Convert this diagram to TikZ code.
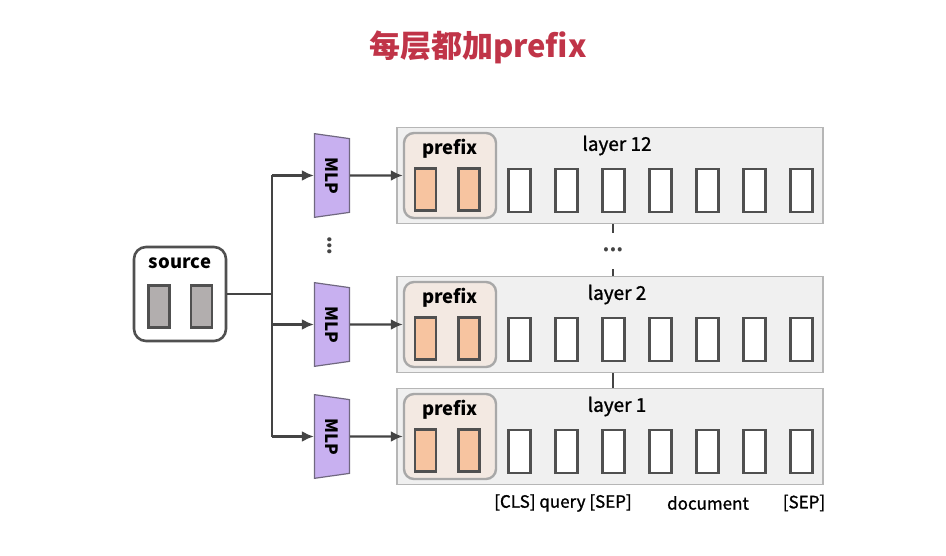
\documentclass[tikz,border=0pt]{standalone}
\usepackage{fontspec}
\setmainfont{Noto Sans CJK KR}
\newfontfamily\cjk{Noto Sans CJK SC}
\newfontfamily\medfont[FakeBold=1.2]{Noto Sans CJK KR}
\usetikzlibrary{arrows.meta}
\usetikzlibrary{shapes.geometric}
\usetikzlibrary{calc}

\definecolor{titlered}{RGB}{192,52,72}
\definecolor{mlppurple}{RGB}{200,176,240}
\definecolor{mlpedge}{RGB}{112,104,128}
\definecolor{layergray}{RGB}{240,240,240}
\definecolor{layeredge}{RGB}{182,182,182}
\definecolor{prefixbg}{RGB}{243,233,226}
\definecolor{prefixedge}{RGB}{168,168,168}
\definecolor{prefixorange}{RGB}{247,196,160}
\definecolor{srcgray}{RGB}{178,174,174}
\definecolor{edgegray}{RGB}{80,80,80}
\definecolor{linegray}{RGB}{68,68,68}

\tikzset{
    layerbox/.style={draw=layeredge, line width=1.8pt, fill=layergray, minimum width=426pt, minimum height=96pt, inner sep=0pt},
    prefixbox/.style={draw=prefixedge, line width=2.4pt, fill=prefixbg, rounded corners=10pt, minimum width=92pt, minimum height=85pt, inner sep=0pt},
    srcbox/.style={draw=edgegray, line width=2.6pt, fill=white, rounded corners=12pt, minimum width=92pt, minimum height=94pt, inner sep=0pt},
    token/.style={draw=edgegray, line width=2.6pt, fill=white, minimum width=22pt, minimum height=43pt, inner sep=0pt},
    ptoken/.style={token, fill=prefixorange, minimum width=21pt, minimum height=42pt},
    stoken/.style={token, fill=srcgray, minimum width=21pt, minimum height=42pt},
    mlp/.style={trapezium, trapezium angle=79, trapezium stretches=true, draw=mlpedge, line width=1.2pt, fill=mlppurple, minimum width=84pt, minimum height=35pt, inner sep=0pt, rotate=-90, font=\bfseries\fontsize{17}{17}\selectfont},
    link/.style={draw=linegray, line width=2.4pt},
    arr/.style={link, -{Latex[length=12pt,width=11pt]}},
    boldlbl/.style={font=\bfseries\fontsize{18.5}{18.5}\selectfont, inner sep=0pt},
    lbl/.style={font=\medfont\fontsize{19}{19}\selectfont, inner sep=0pt},
    tag/.style={font=\medfont\fontsize{17}{17}\selectfont, inner sep=0pt},
    dots/.style={inner sep=0pt, text=linegray, font=\fontsize{16}{16}\selectfont},
}

\begin{document}
\begin{tikzpicture}[x=1pt,y=-1pt]
    \useasboundingbox (0,0) rectangle (946,556);

    \node[font=\cjk\bfseries\fontsize{31}{31}\selectfont, text=titlered] (title) at (478,47) {每层都加prefix};

    \node[srcbox] (src) at (180,294) {};
    \node[boldlbl] (srclbl) at (180,263) {source};
    \node[stoken] (s1) at (159,306.5) {};
    \node[stoken] (s2) at (201.5,306.5) {};

    \foreach \name/\lab/\yc in {top/12/175.5, mid/2/324.5, bot/1/436.5} {
        \node[layerbox] (l\name) at (610,\yc) {};
        \node[lbl] (ll\name) at (617,\yc-30) {layer \lab};
        \node[prefixbox] (p\name) at (450,\yc) {};
        \node[boldlbl] (pl\name) at (450,\yc-27) {prefix};
        \node[ptoken] (pa\name) at (425.5,\yc+14) {};
        \node[ptoken] (pb\name) at (469,\yc+14) {};
        \foreach \i in {0,...,6}
            \node[token] (t\name\i) at ({519.5+47*\i},{\yc+15}) {};
        \node[mlp] (m\name) at (332,\yc) {MLP};
        \draw[arr] (m\name) -- (p\name);
    }

    \coordinate (split) at (272,294);
    \draw[link] (src) -- (split);
    \draw[link] (split |- mtop) -- (split |- mbot);
    \foreach \name in {top,mid,bot}
        \draw[arr] (split |- m\name) -- (m\name);

    \node[dots, rotate=90] (mdots) at (331,246) {•\hspace{0.5pt}•\hspace{0.5pt}•};

    \node[dots, minimum height=36pt] (ldots) at (613,251) {•\hspace{1.5pt}•\hspace{1.5pt}•};
    \draw[link, line width=2pt] (ltop.south -| ldots) -- (ldots.north);
    \draw[link, line width=2pt] (ldots.south) -- (lmid.north -| ldots);
    \draw[link, line width=2pt] (lmid.south -| ldots) -- (lbot.north -| ldots);

    \node[tag] (cls) at (563,503) {[CLS] query [SEP]};
    \node[tag] (doc) at (708,503) {document};
    \node[tag] (sep) at (804,503) {[SEP]};
\end{tikzpicture}
\end{document}
